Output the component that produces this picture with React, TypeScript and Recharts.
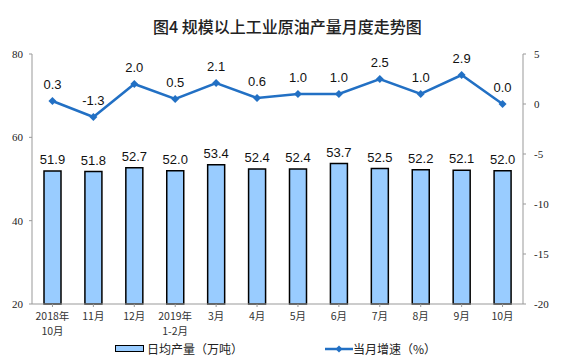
import { Bar, ComposedChart, LabelList, Line, XAxis, YAxis } from 'recharts';

const months = ['2018年\n10月', '11月', '12月', '2019年\n1-2月', '3月', '4月', '5月', '6月', '7月', '8月', '9月', '10月'];
const dailyOutput = [51.9, 51.8, 52.7, 52.0, 53.4, 52.4, 52.4, 53.7, 52.5, 52.2, 52.1, 52.0];
const monthlyGrowth = [0.3, -1.3, 2.0, 0.5, 2.1, 0.6, 1.0, 1.0, 2.5, 1.0, 2.9, 0.0];
const leftTicks = [20, 40, 60, 80];
const rightTicks = [-20, -15, -10, -5, 0, 5];

const data = months.map((m, i) => ({ month: m, output: dailyOutput[i], growth: monthlyGrowth[i] }));

const lineColor = '#2270C4';
const barFill = '#99CCFF';
const serif = '"Liberation Serif", "Times New Roman", serif';
const cjk = '"Noto Sans CJK SC", sans-serif';

const MonthTick = (props: any) => {
  const { x, y, payload } = props;
  const lines = String(payload.value).split('\n');
  return (
    <text x={x} y={y} textAnchor="middle" fill="#333" fontSize={10.5} fontFamily={cjk}>
      {lines.map((l, i) => (
        <tspan key={i} x={x} dy={i === 0 ? 11 : 15}>
          {l}
        </tspan>
      ))}
    </text>
  );
};

const Diamond = (props: any) => {
  const { cx, cy } = props;
  if (cx == null || cy == null) return null;
  const r = 4;
  return <path d={`M${cx},${cy - r}L${cx + r},${cy}L${cx},${cy + r}L${cx - r},${cy}Z`} fill={lineColor} />;
};

const App = () => {
  return (
    <div style={{ position: 'absolute', left: 0, top: 0, width: 561, height: 364, background: '#fff' }}>
      <div
        style={{
          position: 'absolute',
          top: 16,
          left: 153,
          fontFamily: cjk,
          fontSize: 16,
          fontWeight: 500,
          color: '#222',
          lineHeight: '20px',
          whiteSpace: 'nowrap',
        }}
      >
        图4 规模以上工业原油产量月度走势图
      </div>
      <ComposedChart width={561} height={364} data={data} margin={{ top: 54, right: 0, bottom: 30, left: 0 }}>
        <XAxis
          dataKey="month"
          interval={0}
          tick={<MonthTick />}
          tickLine={{ stroke: '#999' }}
          tickSize={3}
          axisLine={{ stroke: '#999' }}
          height={30}
        />
        <YAxis
          yAxisId="left"
          domain={[20, 80]}
          ticks={leftTicks}
          width={32}
          tickSize={3}
          tickMargin={6}
          tickLine={{ stroke: '#999' }}
          axisLine={{ stroke: '#999' }}
          tick={{ fill: '#222', fontSize: 11, fontFamily: serif }}
        />
        <YAxis
          yAxisId="right"
          orientation="right"
          domain={[-20, 5]}
          ticks={rightTicks}
          width={38}
          tickSize={3}
          tickMargin={8}
          tickLine={{ stroke: '#999' }}
          axisLine={{ stroke: '#999' }}
          tick={{ fill: '#222', fontSize: 11, fontFamily: serif, textAnchor: 'start' }}
        />
        <Bar yAxisId="left" dataKey="output" fill={barFill} stroke="#000" strokeWidth={1.5} barSize={17} isAnimationActive={false}>
          <LabelList
            dataKey="output"
            position="top"
            offset={7}
            formatter={(v: any) => Number(v).toFixed(1)}
            style={{ fill: '#111', fontSize: 13, fontFamily: '"Liberation Sans", Arial, sans-serif' }}
          />
        </Bar>
        <Line
          yAxisId="right"
          dataKey="growth"
          stroke={lineColor}
          strokeWidth={2.5}
          dot={<Diamond />}
          activeDot={false}
          isAnimationActive={false}
        >
          <LabelList
            dataKey="growth"
            position="top"
            offset={12}
            formatter={(v: any) => Number(v).toFixed(1)}
            style={{ fill: '#111', fontSize: 13, fontFamily: '"Liberation Sans", Arial, sans-serif' }}
          />
        </Line>
      </ComposedChart>
      <div
        style={{
          position: 'absolute',
          top: 340,
          left: 115,
          display: 'flex',
          alignItems: 'center',
          fontFamily: cjk,
          fontSize: 12,
          color: '#222',
        }}
      >
        <span style={{ display: 'inline-block', width: 27, height: 5, background: barFill, border: '1.5px solid #000', marginRight: 3 }} />
        <span>日均产量（万吨）</span>
        <svg width={28} height={10} style={{ marginLeft: 82 }}>
          <line x1={0} y1={5} x2={28} y2={5} stroke={lineColor} strokeWidth={2.5} />
          <path d="M14,1.5L17.5,5L14,8.5L10.5,5Z" fill={lineColor} />
        </svg>
        <span>当月增速（%）</span>
      </div>
    </div>
  );
};

export default App;
